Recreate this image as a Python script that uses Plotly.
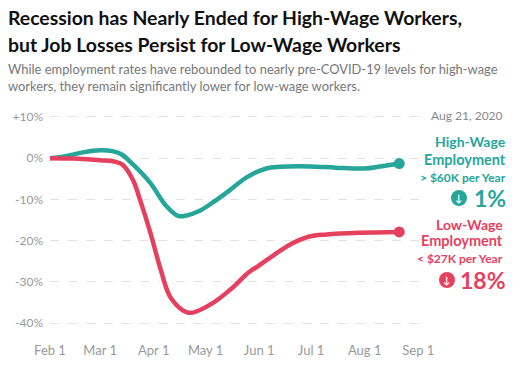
import plotly.graph_objects as go

# ---- data ----
high_dates = ["2020-02-01", "2020-02-10", "2020-02-20", "2020-03-01", "2020-03-08", "2020-03-13",
              "2020-03-20", "2020-03-30", "2020-04-08", "2020-04-15", "2020-04-20", "2020-04-27",
              "2020-05-05", "2020-05-13", "2020-05-25", "2020-06-05", "2020-06-13", "2020-06-30",
              "2020-07-15", "2020-08-01", "2020-08-10", "2020-08-21"]
high_values = [0, 0.5, 1.4, 1.9, 1.7, 1.0, -1.5, -6, -11.5, -14, -13.9, -12.9,
               -10.8, -8.4, -4.6, -2.5, -2.1, -2.0, -2.3, -2.5, -2.0, -1.3]

low_dates = ["2020-02-01", "2020-02-15", "2020-03-01", "2020-03-10", "2020-03-14", "2020-03-20",
             "2020-03-24", "2020-03-30", "2020-04-05", "2020-04-11", "2020-04-21", "2020-05-03",
             "2020-05-15", "2020-05-26", "2020-06-01", "2020-06-13", "2020-06-20", "2020-06-30",
             "2020-07-10", "2020-07-29", "2020-08-21"]
low_values = [0, -0.1, -0.5, -0.9, -1.6, -5.3, -10, -18, -27, -34, -37.5, -35.7,
              -32, -27.7, -26, -22.5, -20.7, -19, -18.5, -18.1, -17.9]

y_ticks = [10, 0, -10, -20, -30, -40]
y_tick_labels = ["+10%", "0%", "-10%", "-20%", "-30%", "-40%"]
x_ticks = ["2020-02-01", "2020-03-01", "2020-04-01", "2020-05-01", "2020-06-01",
           "2020-07-01", "2020-08-01", "2020-09-01"]
x_tick_labels = ["Feb 1", "Mar 1", "Apr 1", "May 1", "Jun 1", "Jul 1", "Aug 1", "Sep 1"]

TEAL = "#26a69a"
RED = "#e5415f"
FONT = "Lato"

fig = go.Figure()
fig.add_trace(go.Scatter(x=high_dates, y=high_values, mode="lines",
                         line=dict(color=TEAL, width=4.5, shape="spline", smoothing=1.0),
                         hoverinfo="skip"))
fig.add_trace(go.Scatter(x=low_dates, y=low_values, mode="lines",
                         line=dict(color=RED, width=4.5, shape="spline", smoothing=1.0),
                         hoverinfo="skip"))
fig.add_trace(go.Scatter(x=high_dates[-1:], y=high_values[-1:], mode="markers",
                         marker=dict(color=TEAL, size=11), hoverinfo="skip"))
fig.add_trace(go.Scatter(x=low_dates[-1:], y=low_values[-1:], mode="markers",
                         marker=dict(color=RED, size=11), hoverinfo="skip"))

TOP, BOTTOM = 105, 335
H = BOTTOM - TOP
LEFT, RIGHT = 50, 420
W = RIGHT - LEFT


def py(y):
    return (BOTTOM - y) / H


def px(x):
    return (x - LEFT) / W


def ann(text, x, y, size, color, bold=False, xanchor="left"):
    if bold:
        text = "<b>" + text + "</b>"
    fig.add_annotation(text=text, x=px(x), y=py(y), xref="paper", yref="paper",
                       xanchor=xanchor, yanchor="middle", showarrow=False,
                       font=dict(family=FONT, size=size, color=color))


ann("Recession has Nearly Ended for High-Wage Workers,", 6, 18, 19.4, "#111", bold=True)
ann("but Job Losses Persist for Low-Wage Workers", 6, 45, 19.4, "#111", bold=True)
ann("While employment rates have rebounded to nearly pre-COVID-19 levels for high-wage", 6, 69, 12.9, "#777")
ann("workers, they remain significantly lower for low-wage workers.", 6, 86, 12.9, "#777")

ann("Aug 21, 2020", 505, 115, 12, "#888", xanchor="right")
ann("High-Wage", 508, 141, 14, TEAL, bold=True, xanchor="right")
ann("Employment", 508, 159, 14.5, TEAL, bold=True, xanchor="right")
ann("&gt; $60K per Year", 508, 177, 12, TEAL, bold=True, xanchor="right")
ann("1%", 508, 198, 23, TEAL, bold=True, xanchor="right")
ann("Low-Wage", 505, 224, 14, RED, bold=True, xanchor="right")
ann("Employment", 505, 241, 14.5, RED, bold=True, xanchor="right")
ann("&lt; $27K per Year", 505, 258, 12, RED, bold=True, xanchor="right")
ann("18%", 508, 280, 23, RED, bold=True, xanchor="right")

# circled arrow icons
for cx, cy, col in [(459, 198, TEAL), (447, 280, RED)]:
    r = 8
    fig.add_shape(type="circle", xref="paper", yref="paper",
                  x0=px(cx - r), x1=px(cx + r), y0=py(cy + r), y1=py(cy - r),
                  fillcolor=col, line=dict(width=0))
    ann("<b>↓</b>", cx, cy, 10, "white", xanchor="center")

fig.update_layout(
    width=525, height=380,
    margin=dict(l=LEFT, r=525 - RIGHT, t=TOP, b=380 - BOTTOM),
    paper_bgcolor="white", plot_bgcolor="white",
    showlegend=False,
    font=dict(family=FONT, size=12, color="#999"),
    xaxis=dict(range=["2020-02-01", "2020-09-02"], tickmode="array",
               tickvals=x_ticks, ticktext=x_tick_labels, showgrid=False,
               zeroline=False, showline=False, ticks="", ticklabelstandoff=6,
               tickfont=dict(size=13, color="#999")),
    yaxis=dict(range=[-42.9, 12.9], tickmode="array", tickvals=y_ticks,
               ticktext=y_tick_labels, showgrid=True, gridcolor="#e3e3e3",
               griddash="dash", gridwidth=1, zeroline=False, showline=False,
               ticks="", ticklabelstandoff=6, tickfont=dict(size=12, color="#999")),
)

fig.write_html("out.html", config={"displayModeBar": False},
               post_script="document.body.style.margin='0';")
